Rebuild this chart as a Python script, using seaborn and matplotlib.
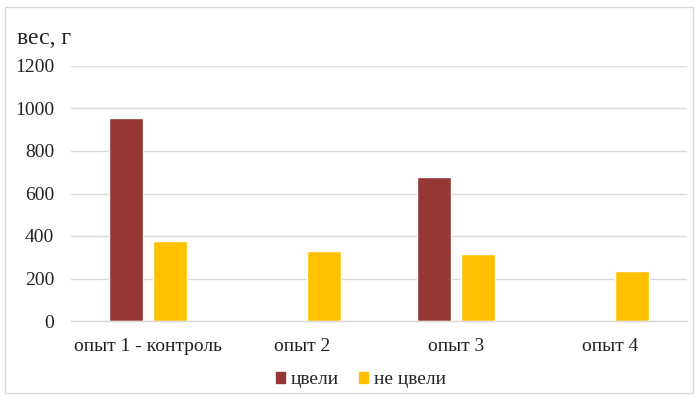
import matplotlib
matplotlib.use("Agg")
import matplotlib.pyplot as plt
from matplotlib.patches import Rectangle
import pandas as pd
import seaborn as sns

# Weights per trial, grams
categories = ["опыт 1 - контроль", "опыт 2", "опыт 3", "опыт 4"]
series_names = ["цвели", "не цвели"]
bloomed = [955, 0, 679, 0]
not_bloomed = [376, 331, 314, 235]
y_ticks = [0, 200, 400, 600, 800, 1000, 1200]

df = pd.DataFrame({
    "category": categories * 2,
    "series": [series_names[0]] * 4 + [series_names[1]] * 4,
    "value": bloomed + not_bloomed,
})

sns.set_theme(style="white")
plt.rcParams["font.family"] = ["Liberation Serif", "DejaVu Serif"]

fig = plt.figure(figsize=(6.98, 3.98), dpi=100)
ax = fig.add_axes([71 / 698, 1 - 321 / 398, 616 / 698, 255 / 398])

palette = {"цвели": "#953735", "не цвели": "#FFC000"}
sns.barplot(data=df, x="category", y="value", hue="series", order=categories,
            hue_order=series_names, palette=palette, width=0.564, gap=0.217,
            saturation=1, ax=ax, legend=False)

ax.set_ylim(0, 1200)
ax.set_xlim(-0.5, 3.5)
ax.set_yticks(y_ticks)
ax.set_yticklabels([str(v) for v in y_ticks], fontsize=14, color="#222222")
ax.set_xticks(range(len(categories)))
ax.set_xticklabels(categories, fontsize=14, color="#222222")
ax.tick_params(axis="both", length=0)
ax.tick_params(axis="y", pad=12)
ax.tick_params(axis="x", pad=12)
ax.set_xlabel("")
ax.set_ylabel("")
ax.yaxis.grid(True, color="#D9D9D9", linewidth=1)
ax.set_axisbelow(True)
for side in ["top", "right", "left"]:
    ax.spines[side].set_visible(False)
ax.spines["bottom"].set_color("#D9D9D9")
ax.spines["bottom"].set_linewidth(1)

fig.text(17 / 698, 1 - 38 / 398, "вес, г", fontsize=17, color="#222222",
         ha="left", va="center")

# Legend
handles = [Rectangle((0, 0), 1, 1, color=palette[s]) for s in series_names]
fig.legend(handles, series_names, loc="center", bbox_to_anchor=(361 / 698, 1 - 380 / 398),
           ncol=2, frameon=False, fontsize=14, handlelength=0.47, handleheight=0.47,
           handletextpad=0.27, columnspacing=1.05, borderpad=0, borderaxespad=0)

# Outer chart border
fig.patches.append(Rectangle((5 / 698, 5 / 398), 688 / 698, 386 / 398,
                             transform=fig.transFigure, fill=False,
                             edgecolor="#D9D9D9", linewidth=1))

fig.savefig("out.png", dpi=100)
